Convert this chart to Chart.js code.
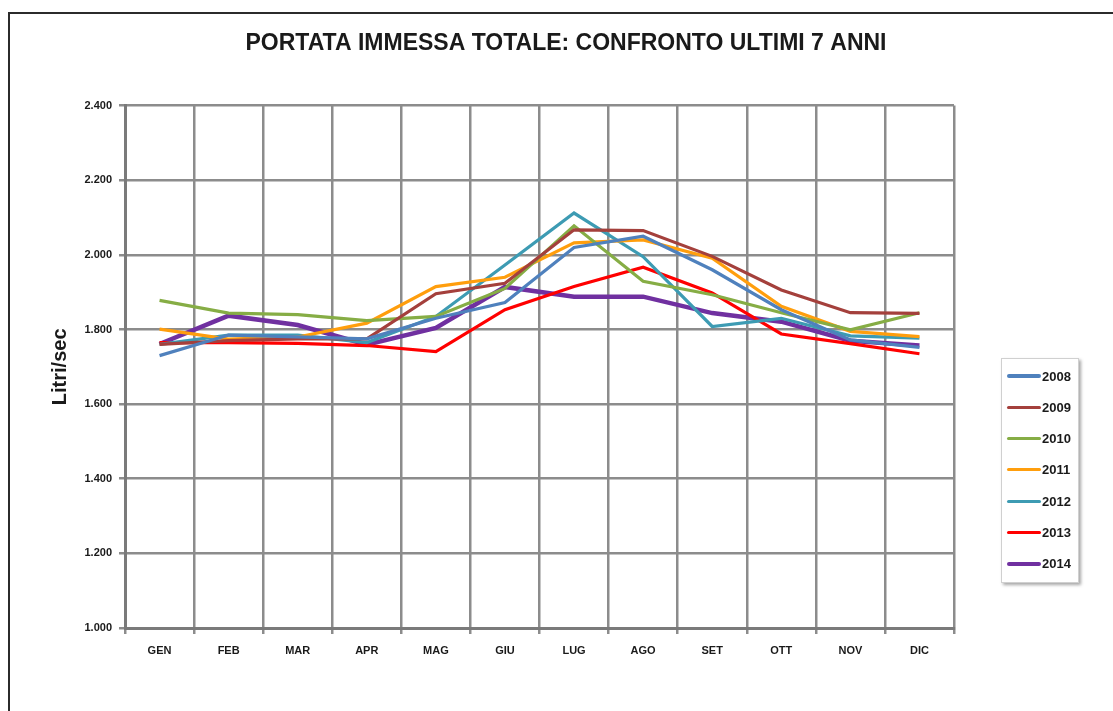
<!DOCTYPE html>
<html lang="it">
<head>
    <meta charset="UTF-8">
    <title>Portata immessa totale</title>
    <script src="https://cdn.jsdelivr.net/npm/chart.js"></script>
    <style>
        body {
            margin: 0;
            background: #ffffff;
            overflow: hidden;
            font-family: "Liberation Sans", Arial, sans-serif;
        }
        .frame {
            position: absolute;
            left: 8px;
            top: 12px;
            width: 1200px;
            height: 800px;
            border: 2px solid #2b2b2b;
        }
        #chart {
            position: absolute;
            left: 0;
            top: 0;
        }
        .legend {
            position: absolute;
            left: 1001px;
            top: 358px;
            width: 76px;
            height: 223px;
            border: 1px solid #d0d0d0;
            box-shadow: 2px 2px 3px rgba(0, 0, 0, 0.35);
            background: #ffffff;
        }
        .legend-item {
            position: absolute;
            left: 5px;
            height: 16px;
            display: flex;
            align-items: center;
            font-weight: bold;
            font-size: 13px;
            color: #1a1a1a;
        }
        .legend-line {
            width: 34px;
            margin-right: 1px;
            border-radius: 2px;
        }
    </style>
</head>
<body>
    <div class="frame"></div>
    <canvas id="chart" width="1113" height="711"></canvas>
    <div class="legend" id="legend"></div>

    <script>
        const months = ['GEN', 'FEB', 'MAR', 'APR', 'MAG', 'GIU', 'LUG', 'AGO', 'SET', 'OTT', 'NOV', 'DIC'];
        const years = ['2008', '2009', '2010', '2011', '2012', '2013', '2014'];

        // litri/sec per mese
        const y2008 = [1730, 1785, 1780, 1775, 1830, 1872, 2020, 2050, 1960, 1853, 1772, 1752];
        const y2009 = [1760, 1770, 1775, 1775, 1896, 1924, 2067, 2065, 1996, 1906, 1845, 1843];
        const y2010 = [1878, 1844, 1840, 1824, 1835, 1910, 2078, 1929, 1893, 1845, 1799, 1845];
        const y2011 = [1801, 1774, 1780, 1817, 1915, 1940, 2032, 2040, 1991, 1862, 1795, 1781];
        const y2012 = [1760, 1785, 1785, 1765, 1835, 1973, 2112, 1995, 1808, 1830, 1783, 1777];
        const y2013 = [1765, 1765, 1763, 1757, 1741, 1853, 1915, 1967, 1898, 1788, 1762, 1735];
        const y2014 = [1761, 1837, 1812, 1759, 1804, 1914, 1888, 1888, 1844, 1821, 1770, 1757];

        const yTicks = [1000, 1200, 1400, 1600, 1800, 2000, 2200, 2400];

        const series = [y2008, y2009, y2010, y2011, y2012, y2013, y2014];
        const colors = ['#4f81bd', '#a4403c', '#86ad45', '#ff9e0d', '#3d9bb3', '#ff0000', '#7030a0'];
        const widths = [3.2, 3.2, 3.2, 3.2, 3.2, 3.2, 4.5];

        function fmt(v) {
            return String(v).replace(/\B(?=(\d{3})+(?!\d))/g, '.');
        }

        const datasets = series.map((data, i) => ({
            label: years[i],
            data: data,
            borderColor: colors[i],
            backgroundColor: colors[i],
            borderWidth: widths[i],
            pointRadius: 0,
            tension: 0,
            fill: false
        }));

        const gridColor = '#8c8c8c';

        new Chart(document.getElementById('chart').getContext('2d'), {
            type: 'line',
            data: { labels: months, datasets: datasets },
            options: {
                responsive: false,
                animation: false,
                layout: { padding: { left: 20, right: 1, top: 0, bottom: 0 } },
                plugins: {
                    legend: { display: false },
                    tooltip: { enabled: false },
                    title: {
                        display: true,
                        text: 'PORTATA IMMESSA TOTALE: CONFRONTO ULTIMI 7 ANNI',
                        color: '#1a1a1a',
                        font: { family: 'Liberation Sans', size: 23, weight: 'bold' },
                        padding: { top: 30, bottom: 48 }
                    }
                },
                scales: {
                    x: {
                        offset: true,
                        grid: { offset: true, color: gridColor, lineWidth: 2.5, tickLength: 6 },
                        border: { color: '#7a7a7a', width: 3 },
                        ticks: {
                            color: '#1a1a1a',
                            padding: 10,
                            maxRotation: 0,
                            font: { family: 'Liberation Sans', size: 11, weight: 'bold' }
                        },
                        afterFit: s => { s.height = 83; }
                    },
                    y: {
                        min: 1000,
                        max: 2400,
                        afterBuildTicks: s => { s.ticks = yTicks.map(v => ({ value: v })); },
                        grid: { color: gridColor, lineWidth: 2.5, tickLength: 6 },
                        border: { color: '#7a7a7a', width: 3 },
                        ticks: {
                            color: '#1a1a1a',
                            padding: 7,
                            font: { family: 'Liberation Sans', size: 11, weight: 'bold' },
                            callback: v => fmt(v)
                        },
                        title: {
                            display: true,
                            text: 'Litri/sec',
                            color: '#1a1a1a',
                            font: { family: 'Liberation Sans', size: 20, weight: 'bold' },
                            padding: { top: 28, bottom: 0 }
                        },
                        afterFit: s => { s.width = 105; }
                    },
                    side: {
                        position: 'right',
                        grid: { display: false, drawTicks: false },
                        border: { display: false },
                        ticks: { display: false },
                        afterFit: s => { s.width = 158; }
                    }
                }
            }
        });

        // legenda a destra
        const legend = document.getElementById('legend');
        years.forEach((y, i) => {
            const item = document.createElement('div');
            item.className = 'legend-item';
            item.style.top = (9 + i * 31.3) + 'px';
            const line = document.createElement('span');
            line.className = 'legend-line';
            line.style.height = widths[i] + 'px';
            line.style.background = colors[i];
            item.appendChild(line);
            item.appendChild(document.createTextNode(y));
            legend.appendChild(item);
        });
    </script>
</body>
</html>
